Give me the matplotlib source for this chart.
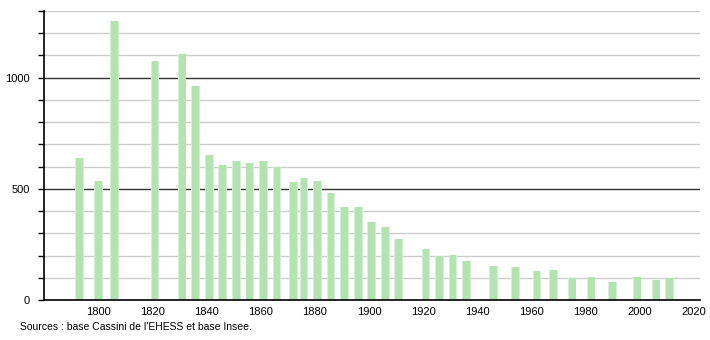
import matplotlib.pyplot as plt
import numpy as np

# Census years and population
years = [1793, 1800, 1806, 1821, 1831, 1836, 1841, 1846, 1851, 1856,
         1861, 1866, 1872, 1876, 1881, 1886, 1891, 1896, 1901, 1906,
         1911, 1921, 1926, 1931, 1936, 1946, 1954, 1962, 1968, 1975,
         1982, 1990, 1999, 2006, 2011]
population = [640, 537, 1253, 1073, 1107, 964, 651, 609, 626, 617,
              626, 598, 530, 548, 534, 483, 420, 420, 352, 328,
              275, 230, 200, 203, 176, 155, 149, 131, 134, 98,
              104, 83, 104, 90, 98]
xtick_years = [1800, 1820, 1840, 1860, 1880, 1900, 1920, 1940, 1960, 1980, 2000, 2020]
ytick_labels = [0, 500, 1000]
source_text = "Sources : base Cassini de l'EHESS et base Insee."

plt.rcParams['font.family'] = ['Liberation Sans', 'DejaVu Sans']

fig = plt.figure(figsize=(7.1, 3.4), dpi=100)
ax = fig.add_axes([44 / 710, 1 - 300 / 340, 656 / 710, 289 / 340])

# Grid: light every 100, dark every 500
for v in range(100, 1400, 100):
    if v % 500 == 0:
        ax.axhline(v, color='#333333', lw=1.0, zorder=1)
    else:
        ax.axhline(v, color='#cccccc', lw=1.0, zorder=1)

# soft halo + main bar to mimic the gradient look
ax.bar(years, population, width=3.2, color='#d6f0d5', zorder=2)
ax.bar(years, population, width=2.5, color='#b3e3b1', zorder=3)

ax.set_xlim(1780, 2022.2)
ax.set_ylim(0, 1300)

ax.set_xticks(xtick_years)
ax.set_xticklabels([str(y) for y in xtick_years], fontsize=8)
ax.tick_params(axis='x', length=0, pad=5)

ax.set_yticks(np.arange(0, 1400, 100))
ax.set_yticklabels([str(v) if v in ytick_labels else '' for v in range(0, 1400, 100)], fontsize=8)
ax.tick_params(axis='y', length=4, width=1, direction='out', pad=6)

for side in ['top', 'right']:
    ax.spines[side].set_visible(False)
ax.spines['left'].set_linewidth(1.2)
ax.spines['bottom'].set_linewidth(1.2)
ax.spines['left'].set_zorder(5)
ax.spines['bottom'].set_zorder(5)

fig.text(20 / 710, 1 - 327 / 340, source_text, fontsize=7.5, va='center', ha='left')

fig.savefig('out.png', dpi=100)
